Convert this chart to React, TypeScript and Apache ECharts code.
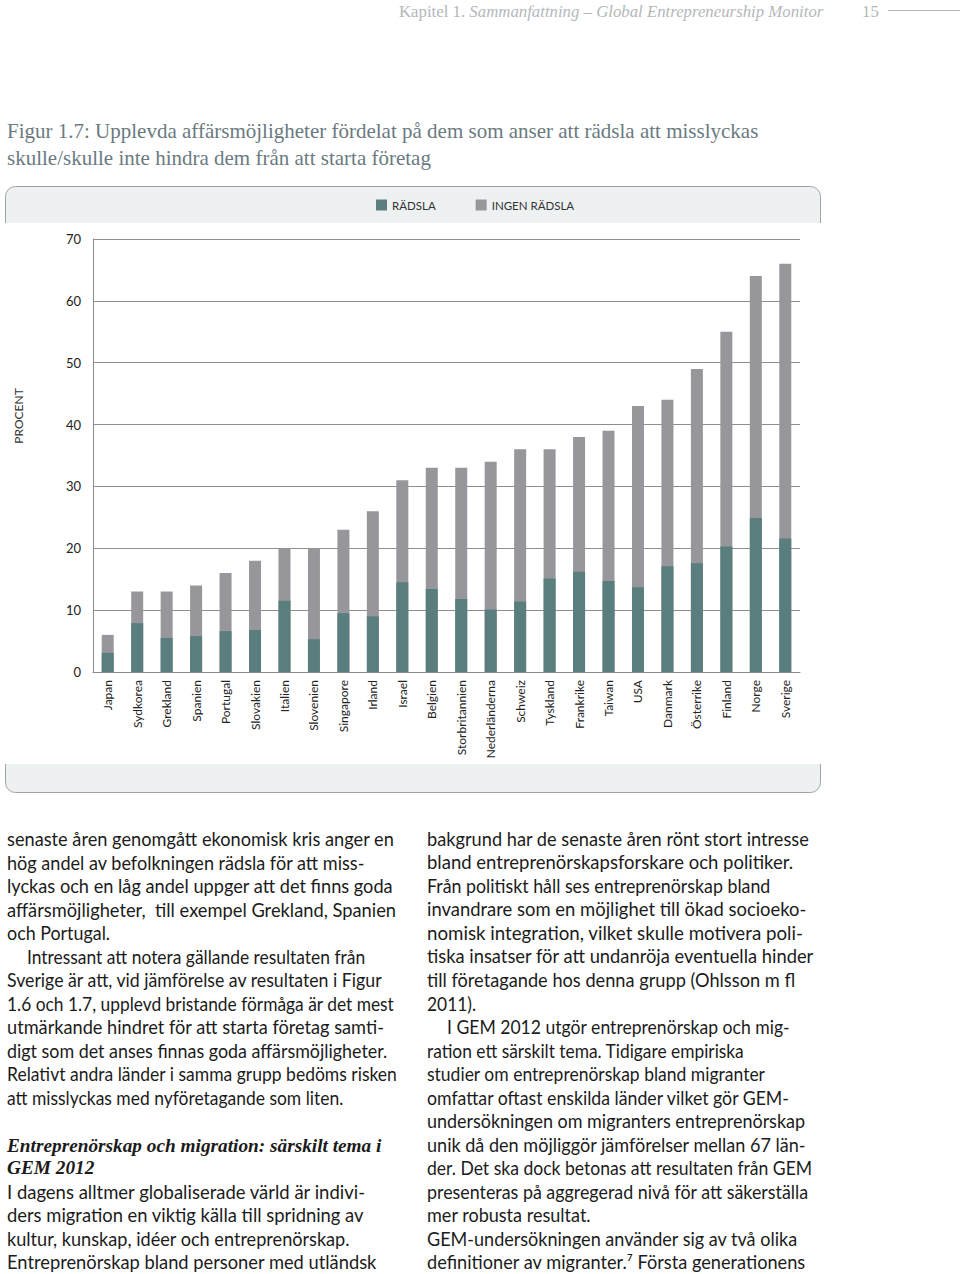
import React, { useEffect, useRef } from "react";
import * as echarts from "echarts";

const categories = [
  "Japan", "Sydkorea", "Grekland", "Spanien", "Portugal", "Slovakien", "Italien", "Slovenien",
  "Singapore", "Irland", "Israel", "Belgien", "Storbritannien", "Nederländerna", "Schweiz",
  "Tyskland", "Frankrike", "Taiwan", "USA", "Danmark", "Österrike", "Finland", "Norge", "Sverige",
];
const radsla = [3.1, 7.9, 5.5, 5.8, 6.6, 6.8, 11.5, 5.3, 9.5, 9.0, 14.5, 13.4, 11.8, 10.1, 11.4, 15.1, 16.2, 14.7, 13.7, 17.1, 17.6, 20.3, 24.9, 21.6];
const ingenRadsla = [6, 13, 13, 14, 16, 18, 20, 20, 23, 26, 31, 33, 33, 34, 36, 36, 38, 39, 43, 44, 49, 55, 64, 66];
const seriesNames = ["RÄDSLA", "INGEN RÄDSLA"];
const yTicks = { min: 0, max: 70, interval: 10 };
const yAxisTitle = "PROCENT";

const headerChapter = "Kapitel 1.";
const headerTitle = "Sammanfattning – Global Entrepreneurship Monitor";
const pageNumber = "15";
const titleLines = [
  "Figur 1.7: Upplevda affärsmöjligheter fördelat på dem som anser att rädsla att misslyckas",
  "skulle/skulle inte hindra dem från att starta företag",
];
const leftLines = [
  "senaste åren genomgått ekonomisk kris anger en",
  "hög andel av befolkningen rädsla för att miss-",
  "lyckas och en låg andel uppger att det finns goda",
  "affärsmöjligheter,  till exempel Grekland, Spanien",
  "och Portugal.",
  "\tIntressant att notera gällande resultaten från",
  "Sverige är att, vid jämförelse av resultaten i Figur",
  "1.6 och 1.7, upplevd bristande förmåga är det mest",
  "utmärkande hindret för att starta företag samti-",
  "digt som det anses finnas goda affärsmöjligheter.",
  "Relativt andra länder i samma grupp bedöms risken",
  "att misslyckas med nyföretagande som liten.",
];
const headingLines = ["Entreprenörskap och migration: särskilt tema i", "GEM 2012"];
const leftLines2 = [
  "I dagens alltmer globaliserade värld är indivi-",
  "ders migration en viktig källa till spridning av",
  "kultur, kunskap, idéer och entreprenörskap.",
  "Entreprenörskap bland personer med utländsk",
];
const rightLines = [
  "bakgrund har de senaste åren rönt stort intresse",
  "bland entreprenörskapsforskare och politiker.",
  "Från politiskt håll ses entreprenörskap bland",
  "invandrare som en möjlighet till ökad socioeko-",
  "nomisk integration, vilket skulle motivera poli-",
  "tiska insatser för att undanröja eventuella hinder",
  "till företagande hos denna grupp (Ohlsson m fl",
  "2011).",
  "\tI GEM 2012 utgör entreprenörskap och mig-",
  "ration ett särskilt tema. Tidigare empiriska",
  "studier om entreprenörskap bland migranter",
  "omfattar oftast enskilda länder vilket gör GEM-",
  "undersökningen om migranters entreprenörskap",
  "unik då den möjliggör jämförelser mellan 67 län-",
  "der. Det ska dock betonas att resultaten från GEM",
  "presenteras på aggregerad nivå för att säkerställa",
  "mer robusta resultat.",
  "GEM-undersökningen använder sig av två olika",
  "definitioner av migranter.⁷ Första generationens",
];

// layout: right edge (px) of each typeset line in the original page
const leftLineEnds = [394, 365, 393, 396, 110, 365, 383, 394, 384, 387, 397, 343];
const leftLine2Ends = [366, 364, 350, 377];
const rightLineEnds = [809, 793, 770, 806, 803, 814, 795, 476, 790, 744, 765, 790, 805, 806, 812, 808, 591, 798, 806];

const TEAL = "#5a7e7d";
const GREY = "#97979b";
const BAND = "#eef1f2";
const BORDER = "#9ea4a6";
const BODY_FONT = "Lato";
const BODY_SIZE = 18.3;
const LINE_H = 23.5;
const INDENT = 20;

let measureCtx: CanvasRenderingContext2D | null = null;
function measure(text: string): number {
  if (!measureCtx) measureCtx = document.createElement("canvas").getContext("2d");
  if (!measureCtx) return 0;
  measureCtx.font = `${BODY_SIZE}px ${BODY_FONT}`;
  return measureCtx.measureText(text).width;
}

function bodyText(lines: string[], ends: number[], x0: number, y0: number) {
  return lines.map((l, i) => {
    const indent = l.startsWith("\t");
    const text = indent ? l.slice(1) : l;
    const x = x0 + (indent ? INDENT : 0);
    const w = measure(text);
    let s = w > 0 && ends[i] ? (ends[i] - x) / w : 1;
    if (s < 0.9 || s > 1.1) s = 1;
    return {
      type: "text",
      x,
      y: y0 + i * LINE_H,
      scaleX: s,
      style: {
        text,
        x: 0,
        y: 0,
        fill: "#1b1b1b",
        fontSize: BODY_SIZE,
        fontFamily: BODY_FONT,
        verticalAlign: "middle",
      },
    };
  });
}

export default function App() {
  const ref = useRef<HTMLDivElement>(null);
  useEffect(() => {
    if (!ref.current) return;
    const chart = echarts.init(ref.current, undefined, { renderer: "svg" });
    const graphics: any[] = [
      // header
      {
        type: "text",
        style: {
          text: "{a|" + headerChapter + " }{b|" + headerTitle + "}",
          x: 399, y: 11, verticalAlign: "middle",
          rich: {
            a: { fontFamily: "Liberation Serif", fontSize: 16.8, fill: "#b3b8bb", color: "#b3b8bb" },
            b: { fontFamily: "Liberation Serif", fontStyle: "italic", fontSize: 16.8, fill: "#b3b8bb", color: "#b3b8bb" },
          },
        },
      },
      {
        type: "text",
        style: { text: pageNumber, x: 862, y: 11, verticalAlign: "middle", fontFamily: "Liberation Serif", fontSize: 16.8, fill: "#b3b8bb" },
      },
      { type: "line", shape: { x1: 888, y1: 10.5, x2: 960, y2: 10.5 }, style: { stroke: "#b3b8bb", lineWidth: 1 } },
      // title
      ...titleLines.map((t, i) => ({
        type: "text",
        style: { text: t, x: 7, y: 131 + i * 27, verticalAlign: "middle", fontFamily: "Liberation Serif", fontSize: 21, fill: "#6a7a7f" },
      })),
      // frame bands
      { type: "rect", z: -10, shape: { x: 5.5, y: 186.5, width: 815, height: 50, r: [10, 10, 0, 0] }, style: { fill: BAND, stroke: BORDER, lineWidth: 1 } },
      { type: "rect", z: -9, shape: { x: 0, y: 223, width: 830, height: 14 }, style: { fill: "#ffffff" } },
      { type: "rect", z: -10, shape: { x: 5.5, y: 745, width: 815, height: 47.5, r: [0, 0, 10, 10] }, style: { fill: BAND, stroke: BORDER, lineWidth: 1 } },
      { type: "rect", z: -9, shape: { x: 0, y: 740, width: 830, height: 24 }, style: { fill: "#ffffff" } },
      // y-axis title
      {
        type: "text",
        x: 18, y: 416, rotation: Math.PI / 2,
        style: { text: yAxisTitle, x: 0, y: 0, align: "center", verticalAlign: "middle", fontFamily: "Lato", fontSize: 12, fill: "#333" },
      },
      // body text
      ...bodyText(leftLines, leftLineEnds, 7, 839),
      ...headingLines.map((t, i) => ({
        type: "text",
        style: { text: t, x: 7, y: 1145 + i * 22, verticalAlign: "middle", fontFamily: "Liberation Serif", fontStyle: "italic", fontWeight: "bold", fontSize: 19.3, fill: "#1b1b1b" },
      })),
      ...bodyText(leftLines2, leftLine2Ends, 7, 1192),
      ...bodyText(rightLines, rightLineEnds, 427, 839),
    ];

    chart.setOption({
      animation: false,
      backgroundColor: "#ffffff",
      legend: {
        data: seriesNames,
        left: 371,
        top: 194,
        itemWidth: 11,
        itemHeight: 11,
        itemGap: 40,
        icon: "rect",
        textStyle: { fontFamily: "Lato", fontSize: 11.5, color: "#333" },
      },
      grid: { left: 93, top: 239, width: 707, height: 433 },
      xAxis: {
        type: "category",
        data: categories,
        axisTick: { show: false },
        axisLine: { lineStyle: { color: "#8a8a8a", width: 1 } },
        axisLabel: { rotate: 90, fontFamily: "Lato", fontSize: 12, color: "#222", margin: 8, interval: 0 },
      },
      yAxis: {
        type: "value",
        min: yTicks.min,
        max: yTicks.max,
        interval: yTicks.interval,
        axisLine: { show: true, lineStyle: { color: "#8a8a8a", width: 1 } },
        axisTick: { show: false },
        axisLabel: { fontFamily: "Lato", fontSize: 13, color: "#222", margin: 12 },
        splitLine: { lineStyle: { color: "#8e8e8e", width: 1 } },
      },
      series: [
        { name: seriesNames[0], type: "bar", data: radsla, barWidth: 12, barGap: "-100%", z: 3, itemStyle: { color: TEAL } },
        { name: seriesNames[1], type: "bar", data: ingenRadsla, barWidth: 12, barGap: "-100%", z: 2, itemStyle: { color: GREY } },
      ],
      graphic: { elements: graphics },
    });
    return () => chart.dispose();
  }, []);
  return <div ref={ref} style={{ position: "absolute", left: 0, top: 0, width: 960, height: 1274 }} />;
}
